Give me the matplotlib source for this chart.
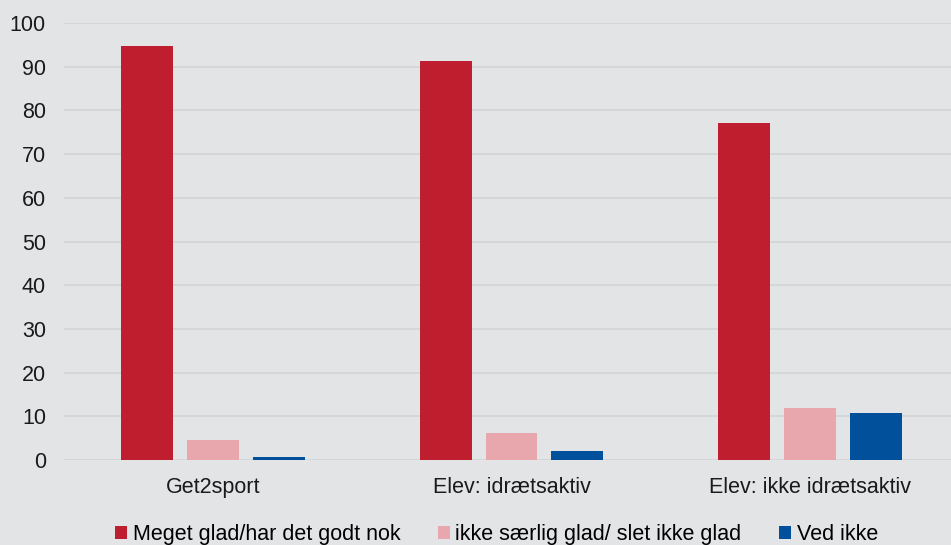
import numpy as np
import matplotlib.pyplot as plt
from matplotlib.patches import Patch

plt.rcParams['font.family'] = ['Liberation Sans', 'DejaVu Sans']

# Data
groups = ['Get2sport', 'Elev: idrætsaktiv', 'Elev: ikke idrætsaktiv']
series = ['Meget glad/har det godt nok', 'ikke særlig glad/ slet ikke glad', 'Ved ikke']
glad = [94.7, 91.3, 77.1]
ikke_glad = [4.6, 6.2, 11.9]
ved_ikke = [0.6, 2.1, 10.8]
colors = ['#be1e2d', '#e8a6ad', '#00509b']
bg = '#e3e4e6'

fig = plt.figure(figsize=(9.51, 5.45), dpi=100, facecolor=bg)
ax = fig.add_axes([64 / 951, 1 - 460 / 545, 895 / 951, 437 / 545], facecolor=bg)

x = np.arange(len(groups))
w = 0.174
step = 0.221
for i, (vals, c) in enumerate(zip([glad, ikke_glad, ved_ikke], colors)):
    ax.bar(x + (i - 1) * step, vals, w, color=c, zorder=3)

ax.set_xlim(-0.5, 2.5)
ax.set_ylim(0, 100)
ax.set_yticks(range(0, 101, 10))
ax.grid(axis='y', color='#d3d4d6', linewidth=1.2, zorder=0)
ax.set_xticks(x)
ax.set_xticklabels(groups)
ax.tick_params(axis='both', length=0, labelsize=15.5, colors='#1a1a1a')
ax.tick_params(axis='x', pad=12)
ax.tick_params(axis='y', pad=13)
for s in ax.spines.values():
    s.set_visible(False)

handles = [Patch(facecolor=c) for c in colors]
fig.legend(handles, series, loc='lower center', bbox_to_anchor=(0.522, -0.036), ncol=3,
           frameon=False, fontsize=15.5, handlelength=0.56, handleheight=0.56,
           handletextpad=0.25, columnspacing=1.75)

fig.savefig('out.png', dpi=100, facecolor=bg)
